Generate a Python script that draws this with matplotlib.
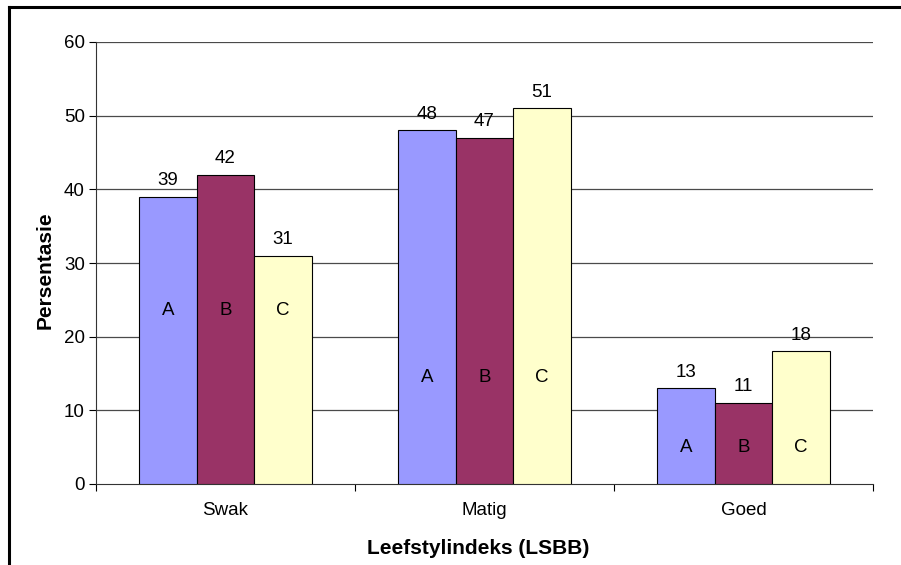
import matplotlib
matplotlib.use("Agg")
import matplotlib.pyplot as plt
from matplotlib.lines import Line2D
import numpy as np

plt.rcParams['font.family'] = ['Liberation Sans', 'DejaVu Sans']

categories = ["Swak", "Matig", "Goed"]
series_names = ["A", "B", "C"]
values_A = [39, 48, 13]
values_B = [42, 47, 11]
values_C = [31, 51, 18]
inner_label_y = [23.6, 14.4, 5.0]
colors = ["#9999FF", "#993366", "#FFFFCC"]
yticks = [0, 10, 20, 30, 40, 50, 60]

fig = plt.figure(figsize=(9.01, 5.65), dpi=100)
W, H = 901, 565
ax = fig.add_axes([96 / W, 1 - 484 / H, (873 - 96) / W, (484 - 42) / H])

fs = 13.5
x = np.arange(len(categories))
width = 0.222
all_vals = [values_A, values_B, values_C]
for i, (vals, col, name) in enumerate(zip(all_vals, colors, series_names)):
    pos = x + (i - 1) * width
    ax.bar(pos, vals, width=width, color=col, edgecolor="black", linewidth=0.8, zorder=3)
    for p, v, ly in zip(pos, vals, inner_label_y):
        ax.annotate(str(v), (p, v), xytext=(0, 5.5), textcoords="offset points",
                    ha="center", va="bottom", fontsize=fs, zorder=4)
        ax.text(p, ly, name, ha="center", va="center", fontsize=fs, zorder=4)

ax.set_xlim(-0.5, 2.5)
ax.set_ylim(0, 60)
ax.set_yticks(yticks)
ax.set_yticklabels([str(t) for t in yticks], fontsize=fs)
for t in yticks[1:]:
    ax.axhline(t, color="#4a4a4a", linewidth=0.9, zorder=1)

ax.set_xticks([-0.5, 0.5, 1.5, 2.5])
ax.set_xticklabels([])
ax.set_xticks(x, minor=True)
ax.set_xticklabels(categories, minor=True, fontsize=fs)
ax.tick_params(axis="x", which="minor", length=0, pad=13)
ax.tick_params(axis="x", which="major", length=5, direction="out", width=0.8)
ax.tick_params(axis="y", length=5, direction="out", width=0.8, pad=3)

for s in ["top", "right"]:
    ax.spines[s].set_visible(False)
for s in ["left", "bottom"]:
    ax.spines[s].set_linewidth(0.8)
    ax.spines[s].set_color("#333333")

fig.text(45 / W, 1 - 270 / H, "Persentasie", rotation=90, ha="center", va="center",
         fontsize=15, fontweight="bold")
fig.text(478 / W, 1 - 548 / H, "Leefstylindeks (LSBB)", ha="center", va="center",
         fontsize=15, fontweight="bold")

# outer frame (left and top only visible)
fig.add_artist(Line2D([8.5 / W, 8.5 / W], [0, 1 - 6.5 / H], color="black", linewidth=2.2,
                      transform=fig.transFigure))
fig.add_artist(Line2D([8.5 / W, 1], [1 - 6.5 / H, 1 - 6.5 / H], color="black", linewidth=2.2,
                      transform=fig.transFigure))

fig.savefig("out.png", dpi=100)
